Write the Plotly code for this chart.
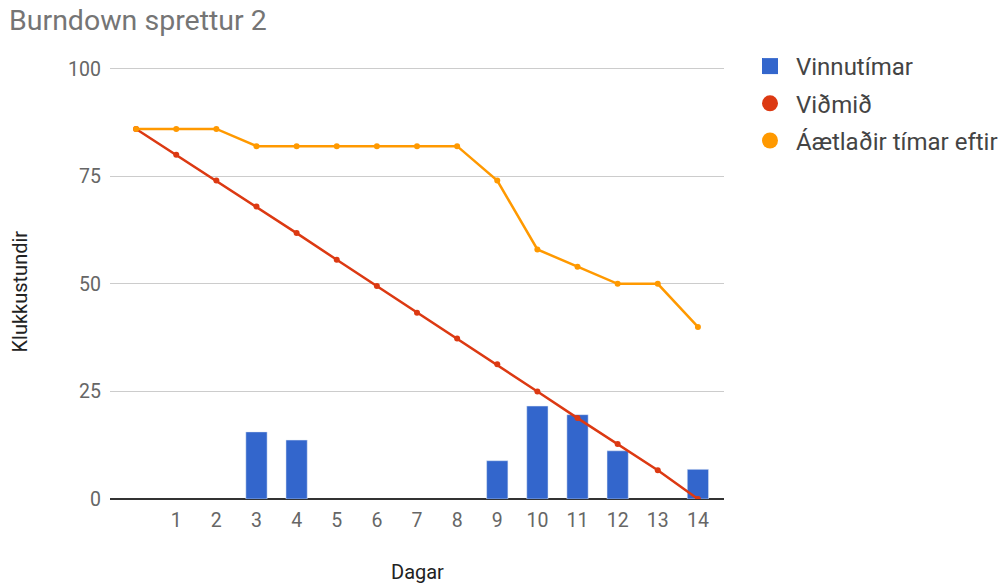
import plotly.graph_objects as go

days = list(range(0, 15))
tick_labels = ["", "1", "2", "3", "4", "5", "6", "7", "8", "9", "10", "11", "12", "13", "14"]
vinnutimar = [None, None, None, 15.6, 13.7, None, None, None, None, 8.9, 21.6, 19.6, 11.2, None, 6.9]
vidmid = [86, 80, 74, 68, 61.8, 55.6, 49.5, 43.3, 37.3, 31.3, 25, 18.8, 12.8, 6.7, 0]
aetladir = [86, 86, 86, 82, 82, 82, 82, 82, 82, 74, 58, 54, 50, 50, 40]

BLUE = "#3366cc"
RED = "#dc3912"
ORANGE = "#ff9900"
FONT = "Roboto"

fig = go.Figure()
fig.add_trace(go.Bar(x=days, y=vinnutimar, name="Vinnutímar", marker_color=BLUE,
                     width=0.53, showlegend=False))
fig.add_trace(go.Scatter(x=days, y=vidmid, name="Viðmið", mode="lines+markers",
                         line=dict(color=RED, width=2.5), marker=dict(size=6, color=RED),
                         showlegend=False))
fig.add_trace(go.Scatter(x=days, y=aetladir, name="Áætlaðir tímar eftir", mode="lines+markers",
                         line=dict(color=ORANGE, width=2.5), marker=dict(size=6, color=ORANGE),
                         showlegend=False))

# legend-only entries
for nm, col, sym, grp in [("Vinnutímar", BLUE, "square", "a"),
                          ("Viðmið", RED, "circle", "b"),
                          ("Áætlaðir tímar eftir", ORANGE, "circle", "c")]:
    fig.add_trace(go.Scatter(x=[None], y=[None], name=nm, mode="markers",
                             marker=dict(color=col, symbol=sym, size=18),
                             legendgroup=grp, showlegend=True))

fig.update_layout(
    width=1006, height=583,
    margin=dict(l=110, r=282, t=67, b=84, autoexpand=False),
    paper_bgcolor="white", plot_bgcolor="white",
    font=dict(family=FONT, color="#444444"),
    title=dict(text="Burndown sprettur 2", x=9/1006, xref="container", xanchor="left",
               y=1-20/583, yref="container", yanchor="middle",
               font=dict(size=28.5, color="#757575", family=FONT)),
    legend=dict(xref="container", yref="container", x=744/1006, y=1-44/583,
                xanchor="left", yanchor="top", itemwidth=42,
                font=dict(size=24, color="#444444", family=FONT),
                traceorder="grouped", tracegroupgap=3, itemsizing="trace",
                bgcolor="rgba(0,0,0,0)"),
    showlegend=True,
    annotations=[
        dict(text="Klukkustundir", xref="paper", yref="paper",
             x=-(110 - 19.5) / 614, y=(499 - 292) / 432, xanchor="center", yanchor="middle",
             textangle=-90, showarrow=False, font=dict(size=20, color="#222222", family=FONT)),
        dict(text="Dagar", xref="paper", yref="paper",
             x=0.5, y=-(572 - 499) / 432, xanchor="center", yanchor="middle",
             showarrow=False, font=dict(size=20, color="#222222", family=FONT)),
    ],
)
fig.update_xaxes(range=[-0.65, 14.65], tickmode="array", tickvals=days, ticktext=tick_labels,
                 showgrid=False, zeroline=False, showline=False, ticks="",
                 ticklabelstandoff=7,
                 tickfont=dict(size=19.5, color="#666666"))
fig.update_yaxes(range=[0, 100.4], tickvals=[0, 25, 50, 75, 100],
                 showgrid=True, gridcolor="#cccccc", gridwidth=1,
                 zeroline=True, zerolinecolor="#333333", zerolinewidth=1.5,
                 ticklabelstandoff=8,
                 tickfont=dict(size=19.5, color="#666666"), ticks="", ticklen=0)

fig.write_html("out.html")
